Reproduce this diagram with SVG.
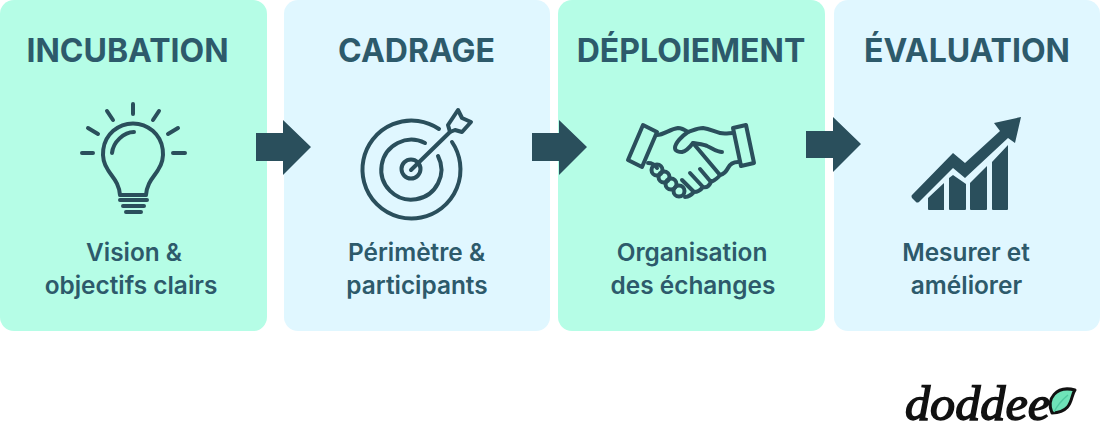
<svg xmlns="http://www.w3.org/2000/svg" width="1100" height="431" viewBox="0 0 1100 431">
<style>
.t{font-family:"Inter","Liberation Sans",sans-serif;font-weight:700;font-size:32px;fill:#2d5a6b;text-anchor:middle}
.s{font-family:"Inter","Liberation Sans",sans-serif;font-weight:600;font-size:24.400px;fill:#2d5a6b;text-anchor:middle}
.i{fill:none;stroke:#2a4f5c;stroke-width:4;stroke-linecap:round;stroke-linejoin:round}
.f{fill:#2a4f5c}
.g{fill:#b5fde6}.b{fill:#e0f7ff}
</style>
<rect width="1100" height="431" fill="#fff"/>
<g id="incubation">
<rect class="g" x="0" y="0" width="267" height="331" rx="14"/>
<text class="t" x="127.500" y="62">INCUBATION</text>
<g class="i">
<path d="M133 104V114M107 111L113 120M88 128L98 134M82 153H93M173 153H185M168 134L178 128M153 120L159 111"/>
<path d="M120 195C119 182 112 177 108 170A30 30 0 1 1 158 170C154 177 147 182 146 195Z"/>
<path d="M112 153C113 142 124 132 134 132"/>
<path d="M120 200H147M123 206H144M126 212H141"/>
</g>
<text class="s" x="134" y="261">Vision &amp;</text>
<text class="s" x="131" y="294">objectifs clairs</text>
</g>
<g id="cadrage">
<rect class="b" x="284" y="0" width="266" height="331" rx="14"/>
<text class="t" x="416.500" y="62">CADRAGE</text>
<g class="i">
<path d="M439 129A49 49 0 1 0 452 142"/>
<path d="M425 143A30 30 0 1 0 438 156"/>
<circle cx="411" cy="169" r="9.500"/>
<path d="M411 170L450 132"/>
<path d="M448 125L458 110L462 118L471 122L462 132L455 130L450 132Z"/>
</g>
<text class="s" x="416.500" y="261">Périmètre &amp;</text>
<text class="s" x="417" y="294">participants</text>
</g>
<g id="deploiement">
<rect class="g" x="558" y="0" width="267" height="331" rx="14"/>
<text class="t" x="691" y="62">DÉPLOIEMENT</text>
<g class="i">
<path d="M643 125L657 132L642 167L628 160Z"/>
<path d="M733 128L746 125L754 163L741 166Z"/>
<path d="M657 135C664 135 670 129 678 128C682 128 685 130 688 132C694 130 698 128 703 128C710 129 715 132 720 133C725 134 729 133 733 133"/>
<path d="M688 132C682 136 675 143 675 148C675 151 679 152 682 152C687 151 690 147 693 143C699 144 704 144 707 146C712 148 717 152 722 152"/>
<path d="M693 143L720 175C724 174 726 172 728 168C730 164 733 162 738 162"/>
<path d="M720 175C718 178 715 180 711 182L700 169M711 182C709 186 706 188 703 187L690 173M703 187C700 191 697 192 694 192L682 180M694 192C691 195 689 197 685 197"/>
<path d="M648 163C652 163 655 165 657 168"/>
<circle cx="657" cy="170" r="5.500"/>
<circle cx="664" cy="177" r="5.500"/>
<circle cx="671" cy="184" r="5.500"/>
<circle cx="679" cy="191" r="5.500"/>
</g>
<text class="s" x="692" y="261">Organisation</text>
<text class="s" x="693" y="294">des échanges</text>
</g>
<g id="evaluation">
<rect class="b" x="834" y="0" width="266" height="331" rx="14"/>
<text class="t" x="967" y="62">ÉVALUATION</text>
<g class="f">
<path d="M912 195L953 153L965 163L1000 131L994 123L1021 117L1015 143L1008 138L965 178L953 168L919 202Q917 203 916 202L912 198Q911 196 912 195Z"/>
<path d="M928 198L944 183V210H929Q928 210 928 209ZM949 178L953 175L966 184V209Q966 210 965 210H950Q949 210 949 209ZM970 183L987 166V209Q987 210 986 210H971Q970 210 970 209ZM992 162L1008 145V209Q1008 210 1007 210H993Q992 210 992 209Z"/>
</g>
<text class="s" x="966" y="261">Mesurer et</text>
<text class="s" x="966.500" y="294">améliorer</text>
</g>
<g id="connectors" class="f">
<path d="M256 133H283V120L311 147L283 175V161H256Z"/>
<path d="M532 133H559V120L587 147L559 175V161H532Z"/>
<path d="M806 131H833V117L861 144L833 172V158H806Z"/>
</g>
<g id="logo">
<text x="905" y="420" textLength="145" lengthAdjust="spacingAndGlyphs" font-family="Liberation Serif,serif" font-style="italic" font-size="48" fill="#111" stroke="#111" stroke-width="1.500">doddee</text>
<path d="M1052 413C1046 399 1056 385 1075 390C1070 396 1074 412 1052 413Z" fill="#6fe3b8" stroke="#111" stroke-width="3" stroke-linejoin="round"/>
<path d="M1054 412C1058 404 1062 400 1068 395" fill="none" stroke="#4fc9a0" stroke-width="1.500"/>
</g>
</svg>
